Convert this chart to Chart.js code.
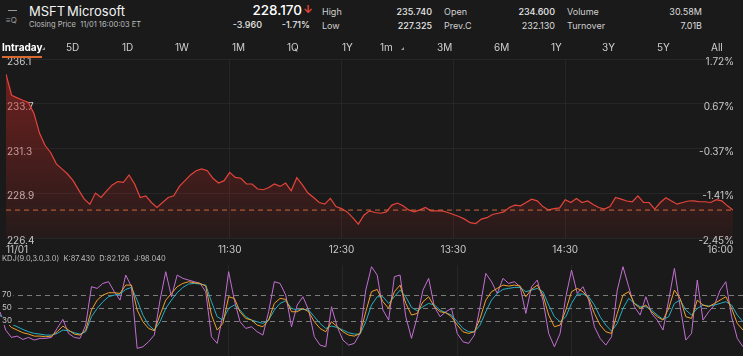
<!DOCTYPE html>
<html><head><meta charset="utf-8">
<script src="https://cdn.jsdelivr.net/npm/chart.js@4"></script>
<style>
html,body{margin:0;padding:0;background:#1a1a1a;width:743px;height:356px;overflow:hidden;font-family:Inter,"Noto Sans",sans-serif;}
.t{position:absolute;white-space:nowrap;line-height:1;}
.hd{z-index:3;}
canvas{position:absolute;left:0;}
</style></head><body>
<script>
// ---------- data ----------
const stepMinutes = 3; // one sample every 3 minutes from 09:30
const price = [
235.30,234.16,234.02,233.89,233.77,233.18,232.10,231.44,231.05,230.45,
230.18,229.90,229.54,229.03,228.54,228.27,228.87,228.63,228.99,229.31,
229.49,229.45,229.85,229.36,228.63,228.72,228.36,228.09,228.36,228.63,
228.72,229.23,229.54,229.85,230.08,230.18,230.08,229.67,229.41,229.54,
229.99,229.72,229.67,229.36,229.36,229.09,229.05,229.17,229.36,229.23,
229.41,228.99,229.70,229.31,228.87,228.63,228.36,228.27,228.58,228.14,
228.03,227.85,227.54,227.19,227.67,227.91,227.82,227.78,227.85,228.22,
228.33,228.18,227.96,227.85,227.96,228.09,227.91,227.91,227.91,227.82,
227.71,227.60,227.46,227.27,227.22,227.46,227.54,227.71,227.78,227.85,
228.09,228.22,228.18,228.36,228.54,228.45,228.14,227.96,228.03,228.07,
228.51,228.36,228.58,228.36,228.44,228.25,228.09,228.00,228.14,228.63,
228.54,228.44,228.40,228.72,228.36,228.36,228.00,228.36,228.62,228.44,
228.27,228.36,228.44,228.45,228.40,228.40,228.36,228.51,228.45,228.18,
227.95];
const kdjK = [
36.6,28.9,20.2,16.1,12.0,9.9,6.8,6.8,5.8,6.8,
13.5,22.2,16.1,9.9,8.4,16.1,46.9,62.2,69.9,73.5,
73.5,72.5,85.3,85.3,46.9,28.9,18.6,15.1,39.2,62.2,
72.5,82.8,87.9,90.5,88.9,87.9,83.8,39.2,16.1,26.3,
67.4,64.8,44.3,34.0,31.5,23.8,21.2,31.5,57.1,64.8,
63.3,44.3,44.3,49.4,44.3,28.9,18.6,13.5,28.9,21.2,
13.5,8.4,6.8,10.9,44.3,75.1,78.7,59.7,49.4,75.1,
85.3,57.1,39.2,41.7,59.7,67.4,52.0,44.3,42.8,36.6,
23.8,13.5,10.9,13.5,34.0,62.2,75.1,80.2,85.3,83.8,
85.3,83.8,67.4,78.7,85.3,69.9,39.2,21.2,23.8,46.9,
75.1,80.2,75.1,64.8,41.7,23.8,13.5,10.9,41.7,69.9,
75.1,57.1,49.4,54.6,44.3,36.6,31.5,49.4,77.6,64.8,
36.6,34.0,62.2,54.6,52.0,57.1,62.2,67.4,49.4,26.3,
16.1];
const kdjD = [
39.2,31.5,25.3,21.2,17.1,13.5,10.9,9.9,8.4,8.4,
10.9,16.1,15.1,12.0,9.9,13.5,36.6,49.4,59.7,67.4,
69.9,71.5,78.7,81.7,62.2,39.2,23.8,16.1,28.9,49.4,
62.2,73.5,81.7,86.9,87.9,86.9,85.3,59.7,36.6,31.5,
49.4,54.6,46.9,36.6,31.5,28.9,26.3,31.5,46.9,57.1,
61.2,49.4,46.9,47.9,46.9,36.6,26.3,18.6,22.2,20.2,
16.1,12.0,9.9,9.9,28.9,54.6,67.4,67.4,57.1,67.4,
77.6,67.4,51.0,45.8,52.0,57.1,54.6,46.9,42.8,39.2,
28.9,18.6,13.5,13.5,23.8,44.3,62.2,72.5,78.7,80.2,
81.7,81.7,75.1,77.6,80.2,75.1,54.6,36.6,28.9,36.6,
57.1,71.5,71.5,67.4,54.6,36.6,23.8,14.5,26.3,49.4,
64.8,57.1,52.0,52.0,46.9,39.2,32.5,36.6,57.1,62.2,
46.9,39.2,49.4,54.6,53.0,54.6,57.1,59.7,54.6,39.2,
28.9];
const kdjJ = [
44.3,16.1,4.8,6.8,1.7,4.8,0.7,3.3,3.3,4.8,
18.6,32.5,10.9,4.8,3.3,23.8,82.8,80.2,87.9,90.5,
75.1,62.2,100.7,82.8,-12.1,-9.6,-1.9,8.4,62.2,105.9,
67.4,100.7,95.6,93.0,90.5,87.9,75.1,5.8,-4.4,39.2,
105.9,62.2,28.9,18.6,21.2,13.5,8.4,44.3,90.5,87.9,
69.9,21.2,54.6,67.4,46.9,5.8,-7.0,-9.6,52.0,21.2,
0.7,-7.0,-4.4,10.9,77.6,113.6,100.7,46.9,31.5,98.2,
100.7,36.6,3.3,36.6,77.6,95.6,52.0,36.6,44.3,49.4,
10.9,-1.9,-4.4,8.4,52.0,103.3,90.5,72.5,95.6,87.9,
90.5,82.8,41.7,82.8,93.0,62.2,10.9,-9.6,10.9,67.4,
108.4,72.5,82.8,62.2,21.2,3.3,-7.0,5.8,77.6,113.6,
82.8,52.0,39.2,67.4,41.7,31.5,16.1,62.2,111.0,52.0,
0.7,10.9,93.0,31.5,44.3,54.6,77.6,90.5,36.6,3.3,
-9.6];
const xTickMinutes = [0,120,180,240,300,390];
const xTickTexts = ['11/01','11:30','12:30','13:30','14:30','16:00'];
const priceTickLabels = ['236.1','233.7','231.3','228.9','226.4'];
const pctTickLabels = ['1.72%','0.67%','-0.37%','-1.41%','-2.45%'];
const priceMin = 226.44, priceMax = 236.12, prevClose = 232.13;
const dashedLevel = 227.95;
const kdjLevels = [30,50,70];
const kdjMin = -23.8, kdjMax = 116.2;
</script>

<!-- header -->
<div class="t hd" style="left:8px;top:10px;width:9px;height:1px;background:#9a9a9a"></div>
<div class="t hd" style="left:6px;top:16px;font-size:8px;color:#9a9a9a">≡Q</div>
<div class="t hd" style="left:29px;top:5px;font-size:13px;color:#f2f2f2">MSFT</div>
<div class="t hd" style="left:67px;top:5px;font-size:13px;color:#f2f2f2">Microsoft</div>
<div class="t hd" style="left:29px;top:21px;font-size:7.5px;color:#bdbdbd">Closing Price&nbsp; 11/01 16:00:03 ET</div>
<div class="t hd" style="right:441px;top:4px;font-size:13.5px;color:#ffffff;font-weight:500">228.170</div>
<div class="t hd" style="left:303px;top:4px;font-size:11px;color:#e8453c;font-weight:700">↓</div>
<div class="t hd" style="right:481px;top:20px;font-size:9px;color:#e6e6e6;font-weight:500">-3.960</div>
<div class="t hd" style="right:433px;top:20px;font-size:9px;color:#e6e6e6;font-weight:500">-1.71%</div>
<div class="t hd" style="left:322px;top:7px;font-size:9px;color:#cfcfcf">High</div>
<div class="t hd" style="left:322px;top:21px;font-size:9px;color:#cfcfcf">Low</div>
<div class="t hd" style="right:311px;top:7px;font-size:9px;color:#e6e6e6;font-weight:500">235.740</div>
<div class="t hd" style="right:311px;top:21px;font-size:9px;color:#e6e6e6;font-weight:500">227.325</div>
<div class="t hd" style="left:444px;top:7px;font-size:9px;color:#cfcfcf">Open</div>
<div class="t hd" style="left:444px;top:21px;font-size:9px;color:#cfcfcf">Prev.C</div>
<div class="t hd" style="right:188px;top:7px;font-size:9px;color:#e6e6e6;font-weight:500">234.600</div>
<div class="t hd" style="right:188px;top:21px;font-size:9px;color:#dcdcdc">232.130</div>
<div class="t hd" style="left:567px;top:7px;font-size:9px;color:#cfcfcf">Volume</div>
<div class="t hd" style="left:567px;top:21px;font-size:9px;color:#cfcfcf">Turnover</div>
<div class="t hd" style="right:41px;top:7px;font-size:9px;color:#dcdcdc">30.58M</div>
<div class="t hd" style="right:41px;top:21px;font-size:9px;color:#dcdcdc">7.01B</div>

<!-- tabs -->
<div class="t hd" style="left:2px;top:42px;font-size:10px;color:#ffffff;font-weight:700">Intraday</div>
<div class="t hd" style="left:42px;top:47px;width:0;height:0;border-left:3px solid transparent;border-bottom:3px solid #9a9a9a"></div>
<div class="t hd" style="left:2px;top:56px;width:40px;height:2px;background:#d9692f"></div>
<div class="t hd" style="left:66px;top:42px;font-size:10px;color:#d0d0d0">5D</div>
<div class="t hd" style="left:122px;top:42px;font-size:10px;color:#d0d0d0">1D</div>
<div class="t hd" style="left:175px;top:42px;font-size:10px;color:#d0d0d0">1W</div>
<div class="t hd" style="left:232px;top:42px;font-size:10px;color:#d0d0d0">1M</div>
<div class="t hd" style="left:287px;top:42px;font-size:10px;color:#d0d0d0">1Q</div>
<div class="t hd" style="left:342px;top:42px;font-size:10px;color:#d0d0d0">1Y</div>
<div class="t hd" style="left:380px;top:42px;font-size:10px;color:#d0d0d0">1m</div>
<div class="t hd" style="left:401px;top:47px;width:0;height:0;border-left:3px solid transparent;border-bottom:3px solid #9a9a9a"></div>
<div class="t hd" style="left:437px;top:42px;font-size:10px;color:#d0d0d0">3M</div>
<div class="t hd" style="left:494px;top:42px;font-size:10px;color:#d0d0d0">6M</div>
<div class="t hd" style="left:551px;top:42px;font-size:10px;color:#d0d0d0">1Y</div>
<div class="t hd" style="left:602px;top:42px;font-size:10px;color:#d0d0d0">3Y</div>
<div class="t hd" style="left:657px;top:42px;font-size:10px;color:#d0d0d0">5Y</div>
<div class="t hd" style="left:711px;top:42px;font-size:10px;color:#d0d0d0">All</div>

<canvas id="pc" width="743" height="210" style="top:52px"></canvas>
<div class="t hd" style="left:2px;top:255px;font-size:7.5px;color:#bdbdbd">KDJ(9.0,3.0,3.0)&nbsp; K:87.430&nbsp; D:82.126&nbsp; J:98.040</div>
<canvas id="kc" width="743" height="91" style="top:265px"></canvas>

<script>
Chart.defaults.font.family = 'Inter, "Noto Sans", sans-serif';
const minutes = price.map((_, i) => i * stepMinutes);
const pts = arr => arr.map((v, i) => ({x: minutes[i], y: v}));
const gridFaint = '#262626';
const xGrid = {
  color: c => (c.index === 0 || c.index === xTickMinutes.length - 1) ? 'rgba(0,0,0,0)' : gridFaint,
  drawTicks: false
};
const setXTicks = s => { s.ticks = xTickMinutes.map(v => ({value: v})); };
const evenTicks = labels => s => {
  const n = labels.length;
  s.ticks = labels.map((_, k) => ({value: s.min + (s.max - s.min) * k / (n - 1)}));
};

new Chart(document.getElementById('pc'), {
  type: 'line',
  data: {datasets: [
    {data: [{x: 0, y: dashedLevel}, {x: 390, y: dashedLevel}], borderColor: '#d0683a',
     borderWidth: 1, borderDash: [5, 4], pointRadius: 0, fill: false, order: -1, yAxisID: 'y'},
    {data: pts(price), borderColor: '#e5443b', borderWidth: 1.2, pointRadius: 0, tension: 0,
     fill: 'start', yAxisID: 'y', order: 0,
     backgroundColor: c => {
       const a = c.chart.chartArea;
       if (!a) return 'rgba(0,0,0,0)';
       const g = c.chart.ctx.createLinearGradient(0, a.top, 0, a.bottom);
       g.addColorStop(0, 'rgba(190,40,35,0.55)');
       g.addColorStop(1, 'rgba(190,40,35,0.07)');
       return g;
     }}
  ]},
  options: {
    responsive: false, animation: false, events: [],
    layout: {padding: 0},
    plugins: {legend: {display: false}, tooltip: {enabled: false}},
    scales: {
      x: {type: 'linear', min: 0, max: 390, afterBuildTicks: setXTicks,
          ticks: {autoSkip: false, maxRotation: 0, align: 'inner', padding: 6, color: '#c8c8c8',
                  font: {size: 10}, callback: v => xTickTexts[xTickMinutes.indexOf(v)]},
          grid: xGrid, border: {display: false}},
      y: {position: 'left', min: priceMin, max: priceMax, afterBuildTicks: evenTicks(priceTickLabels),
          ticks: {mirror: true, padding: 1, labelOffset: 3, color: '#c8c8c8', font: {size: 10},
                  callback: (v, i) => priceTickLabels[priceTickLabels.length - 1 - i]},
          grid: {color: gridFaint, drawTicks: false}, border: {display: false}},
      y2: {position: 'right', min: (priceMin / prevClose - 1) * 100, max: (priceMax / prevClose - 1) * 100,
           afterBuildTicks: evenTicks(pctTickLabels),
           ticks: {mirror: true, padding: 1, labelOffset: 3, color: '#c8c8c8', font: {size: 10},
                   callback: (v, i) => pctTickLabels[pctTickLabels.length - 1 - i]},
           grid: {display: false}, border: {display: false}}
    }
  }
});

const kdjLabelPlugin = {
  id: 'kdjLabels',
  afterDraw(chart) {
    const ys = chart.scales.y, ctx = chart.ctx;
    ctx.save();
    ctx.font = '8px Inter, "Noto Sans", sans-serif';
    ctx.textBaseline = 'middle';
    kdjLevels.forEach(v => {
      const y = ys.getPixelForValue(v);
      const t = String(v);
      const w = ctx.measureText(t).width;
      ctx.fillStyle = '#1a1a1a';
      ctx.fillRect(0, y - 4, w + 4, 8);
      ctx.fillStyle = '#c4c4c4';
      ctx.fillText(t, 2, y);
    });
    ctx.restore();
  }
};

new Chart(document.getElementById('kc'), {
  type: 'line',
  data: {datasets: [
    {data: pts(kdjK), borderColor: '#f0a02c', borderWidth: 1, pointRadius: 0, tension: 0, fill: false},
    {data: pts(kdjD), borderColor: '#27aec6', borderWidth: 1, pointRadius: 0, tension: 0, fill: false},
    {data: pts(kdjJ), borderColor: '#c36fd3', borderWidth: 1, pointRadius: 0, tension: 0, fill: false}
  ]},
  options: {
    responsive: false, animation: false, events: [],
    layout: {padding: 0},
    plugins: {legend: {display: false}, tooltip: {enabled: false}},
    scales: {
      x: {type: 'linear', min: 0, max: 390, afterBuildTicks: setXTicks,
          ticks: {display: false}, grid: xGrid, border: {display: false}},
      y: {min: kdjMin, max: kdjMax, afterBuildTicks: s => { s.ticks = kdjLevels.map(v => ({value: v})); },
          ticks: {display: false},
          grid: {color: '#7a7a7a', drawTicks: false, lineWidth: 1},
          border: {display: false, dash: [5, 4]}}
    }
  },
  plugins: [kdjLabelPlugin]
});
</script>
</body></html>
